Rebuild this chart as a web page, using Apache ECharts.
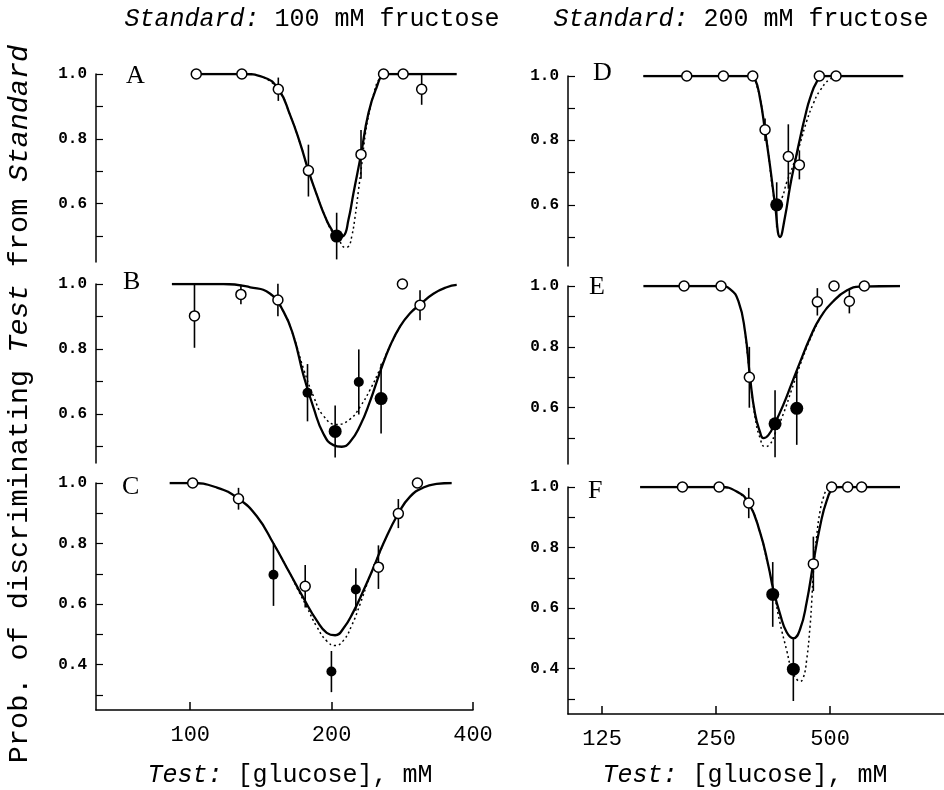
<!DOCTYPE html>
<html>
<head>
<meta charset="utf-8">
<script src="https://cdn.jsdelivr.net/npm/echarts@6/dist/echarts.min.js"></script>
<style>
  html, body { margin: 0; background: #fff; }
  #chart { width: 944px; height: 790px; }
</style>
</head>
<body>
<div id="chart"></div>
<script>
// x values are glucose concentrations (mM), y values are probabilities
// points: [conc, prob, errorbar half length]

// A: standard 100 mM fructose
var aFit = [[100.8,1.0],[128.8,1.0],[143.2,0.99],[154.1,0.953],[163.2,0.873],[171.4,0.786],[178.5,0.702],[186,0.627],[193.7,0.56],[200.2,0.519],[206.8,0.496],[212,0.50],[217.2,0.55],[222.6,0.632],[231,0.752],[239.6,0.88],[249.5,0.96],[257.8,0.997],[266.4,1.0],[369.3,1.0]];
var aDot = [[143.2,0.99],[154.1,0.953],[163.2,0.873],[171.4,0.786],[178.5,0.702],[186,0.627],[193.7,0.56],[200.2,0.515],[206.8,0.49],[213.7,0.465],[217.2,0.468],[220.8,0.50],[224.4,0.56],[228.1,0.64],[231.8,0.72],[235.7,0.81],[239.6,0.87],[245.5,0.935],[251.6,0.98],[260,1.0]];
var aOpen = [[103,1.0,0],[128.8,1.0,0],[154,0.953,0.036],[178.5,0.702,0.08],[231,0.752,0.075],[258,1.0,0],[284,1.0,0],[311,0.953,0.048]];
var aFilled = [[205,0.50,0.072]];

// B
var bFit = [[91.4,1.0],[117.7,1.0],[134.2,0.99],[148,0.97],[158,0.915],[165.9,0.84],[174.2,0.72],[183,0.62],[192.1,0.54],[201.8,0.505],[210.2,0.50],[219,0.515],[230,0.565],[241.5,0.64],[253.7,0.73],[266.4,0.81],[279.8,0.87],[293.8,0.91],[308.5,0.937],[329.4,0.97],[351.6,0.99],[369.3,0.997]];
var bDot = [[148,0.97],[158,0.915],[165.9,0.84],[174.2,0.74],[183,0.655],[192.1,0.595],[205.1,0.568],[219,0.585],[230,0.623],[241.5,0.675],[253.7,0.74],[266.4,0.81],[279.8,0.87]];
var bOpen = [[102.1,0.902,0.098],[128.2,0.968,0.03],[153.7,0.951,0.05],[283,1.0,0],[308.5,0.935,0.046]];
var bFilled = [[203.5,0.547,0.08],[254.9,0.648,0.107]];
var bFilledSmall = [[177.7,0.666,0.088],[228.5,0.699,0.10]];

// C
var cFit = [[90.4,1.0],[100,1.0],[114,0.985],[126.7,0.948],[138.6,0.89],[150.4,0.80],[163.2,0.70],[174.2,0.62],[186,0.545],[195.3,0.505],[203.5,0.497],[212,0.52],[222.6,0.575],[233.8,0.645],[245.5,0.72],[257.8,0.80],[277.5,0.90],[293.8,0.955],[313.6,0.985],[334.8,0.997],[360.3,1.0]];
var cDot = [[150.4,0.80],[163.2,0.70],[168.6,0.655],[177.1,0.59],[186,0.525],[195.3,0.478],[203.5,0.463],[212,0.48],[220.8,0.53],[230,0.60],[239.6,0.68],[245.5,0.72],[257.8,0.80]];
var cOpen = [[101.2,1.0,0],[126.7,0.948,0.036],[175.7,0.659,0.07],[251.6,0.722,0.072],[277.4,0.899,0.048],[304.6,1.0,0]];
var cFilledSmall = [[150.4,0.697,0.103],[199.8,0.377,0.068],[225.2,0.648,0.07]];

// D: standard 200 mM fructose
var dFit = [[160.7,1.0],[307.4,1.0],[316.9,0.99],[326.7,0.93],[336.8,0.83],[347.2,0.72],[357.9,0.60],[369,0.50],[380.4,0.564],[392.1,0.657],[404.2,0.734],[416.7,0.807],[429.6,0.874],[442.8,0.931],[461.2,0.982],[480.2,1.0],[780.6,1.0]];
var dDot = [[160.7,1.0],[307.4,1.0],[320.1,0.97],[333.4,0.87],[343.7,0.76],[352.8,0.65],[361.5,0.60],[372.7,0.62],[384.2,0.67],[400.2,0.725],[416.7,0.79],[433.9,0.86],[451.9,0.915],[470.6,0.955],[500,0.99],[531.4,1.0]];
var dOpen = [[209.2,1.0,0],[261.4,1.0,0],[312.5,1.0,0],[336.8,0.833,0.035],[388,0.75,0.10],[415,0.724,0.045],[468.5,1.0,0],[518.6,1.0,0]];
var dFilled = [[361.5,0.60,0.07]];

// E
var eFit = [[160.7,1.0],[256.2,1.0],[272.2,0.99],[286.4,0.95],[298.2,0.85],[307.4,0.70],[316.9,0.58],[326.7,0.52],[333.4,0.50],[343.7,0.51],[357.9,0.55],[376.5,0.61],[396.1,0.68],[416.7,0.75],[442.8,0.83],[470.6,0.895],[510.2,0.95],[553.3,0.985],[600,0.998],[765.3,1.0]];
var eDot = [[298.2,0.85],[307.4,0.70],[316.9,0.57],[326.7,0.50],[336.8,0.472],[347.2,0.48],[357.9,0.515],[376.5,0.58],[396.1,0.66],[416.7,0.74],[442.8,0.825],[470.6,0.895]];
var eOpen = [[205.8,1.0,0],[257.7,1.0,0],[306.1,0.70,0.10],[462.9,0.948,0.045],[512.3,1.0,0],[562.4,0.95,0.04],[616,1.0,0]];
var eFilled = [[357.9,0.547,0.11],[408.4,0.598,0.12]];

// F
var fFit = [[157.5,1.0],[256.2,1.0],[283.5,0.985],[304.9,0.947],[326.7,0.85],[343.7,0.74],[354.3,0.66],[369,0.58],[384.2,0.52],[400.2,0.50],[416.7,0.53],[433.9,0.62],[451.9,0.75],[470.6,0.87],[490.1,0.955],[510.2,0.995],[531.4,1.0],[765.3,1.0]];
var fDot = [[283.5,0.985],[304.9,0.947],[326.7,0.85],[340.2,0.76],[354.3,0.66],[369,0.55],[384.2,0.46],[396.1,0.395],[408.3,0.365],[416.7,0.358],[425.1,0.37],[433.9,0.43],[442.8,0.54],[447.3,0.62],[451.9,0.72],[461.2,0.84],[470.6,0.92],[480.2,0.965],[490.1,0.99],[505,1.0]];
var fOpen = [[203.8,1.0,0],[254.6,1.0,0],[305,0.947,0.05],[451.8,0.746,0.09],[505,1.0,0],[556.8,1.0,0],[606,1.0,0]];
var fFilled = [[352.9,0.645,0.107],[400,0.398,0.105]];

var xTicksLeft = [100, 200, 400];
var xTicksRight = [125, 250, 500];
var yTicks = [0.3, 0.4, 0.5, 0.6, 0.7, 0.8, 0.9, 1.0];
var yLabels = [0.4, 0.6, 0.8, 1.0];
var panelLetters = ['A', 'B', 'C', 'D', 'E', 'F'];

var mono = '"Liberation Mono", "DejaVu Sans Mono", monospace';
var serif = '"Liberation Serif", "DejaVu Serif", serif';

var lg = function (v) { return Math.log2(v); };
var toXY = function (arr) { return arr.map(function (d) { return [lg(d[0]), d[1]]; }); };

var panels = [
  { fit: aFit, dot: aDot, open: aOpen, big: aFilled, small: [] },
  { fit: bFit, dot: bDot, open: bOpen, big: bFilled, small: bFilledSmall },
  { fit: cFit, dot: cDot, open: cOpen, big: [], small: cFilledSmall },
  { fit: dFit, dot: dDot, open: dOpen, big: dFilled, small: [] },
  { fit: eFit, dot: eDot, open: eOpen, big: eFilled, small: [] },
  { fit: fFit, dot: fDot, open: fOpen, big: fFilled, small: [] }
];

var grids = [
  { left: 96, top: 74, width: 377, height: 188 },
  { left: 96, top: 284, width: 377, height: 179 },
  { left: 96, top: 483, width: 377, height: 227 },
  { left: 568, top: 76, width: 376, height: 190 },
  { left: 568, top: 286, width: 376, height: 178 },
  { left: 568, top: 487, width: 376, height: 227 }
];
var yMin = [0.42, 0.45, 0.25, 0.41, 0.415, 0.25];
var letterPos = [[126, 76], [123, 282], [122, 487], [593, 73], [589, 287], [588, 491]];

var chart = echarts.init(document.getElementById('chart'));

var xAxes = grids.map(function (g, i) {
  var left = i < 3;
  var ticks = (left ? xTicksLeft : xTicksRight).map(lg);
  return {
    gridIndex: i,
    type: 'value',
    min: left ? lg(63) : lg(101.6),
    max: left ? lg(400) : lg(1000),
    show: i === 2 || i === 5,
    axisLine: { onZero: false, lineStyle: { color: '#000', width: 1.5 } },
    axisTick: { inside: true, length: 8, customValues: ticks, lineStyle: { color: '#000', width: 1.5 } },
    axisLabel: {
      customValues: ticks,
      formatter: function (v) { return String(Math.round(Math.pow(2, v))); },
      margin: 14, color: '#000', fontFamily: mono, fontSize: 22
    },
    splitLine: { show: false }
  };
});

var yAxes = grids.map(function (g, i) {
  var ticks = yTicks.filter(function (t) { return t >= yMin[i] - 1e-9; });
  var labels = yLabels.filter(function (t) { return t >= yMin[i] - 1e-9; });
  return {
    gridIndex: i,
    type: 'value',
    min: yMin[i],
    max: 1.0,
    axisLine: { show: true, onZero: false, lineStyle: { color: '#000', width: 1.5 } },
    axisTick: { show: true, inside: true, length: 7, customValues: ticks, lineStyle: { color: '#000', width: 1.2 } },
    axisLabel: {
      customValues: labels,
      formatter: function (v) { return v.toFixed(1); },
      margin: 9, color: '#000', fontFamily: mono, fontWeight: 'bold', fontSize: 16
    },
    splitLine: { show: false }
  };
});

function errorBars(data, i) {
  return {
    type: 'custom',
    xAxisIndex: i, yAxisIndex: i,
    z: 3,
    renderItem: function (params, api) {
      var x = api.value(0), y = api.value(1), e = api.value(2);
      var p1 = api.coord([x, y + e]);
      var p2 = api.coord([x, y - e]);
      return {
        type: 'line',
        shape: { x1: p1[0], y1: p1[1], x2: p2[0], y2: p2[1] },
        style: { stroke: '#000', lineWidth: 1.6 }
      };
    },
    encode: { x: 0, y: 1 },
    data: data.filter(function (d) { return d[2] > 0; }).map(function (d) { return [lg(d[0]), d[1], d[2]]; })
  };
}

var series = [];
panels.forEach(function (p, i) {
  series.push({
    type: 'line', xAxisIndex: i, yAxisIndex: i, data: toXY(p.dot),
    smooth: 0.5, showSymbol: false, z: 2,
    lineStyle: { color: '#000', width: 1.5, type: [2, 3] }
  });
  series.push({
    type: 'line', xAxisIndex: i, yAxisIndex: i, data: toXY(p.fit),
    smooth: 0.5, showSymbol: false, z: 2,
    lineStyle: { color: '#000', width: 2.3 }
  });
  series.push(errorBars(p.open.concat(p.big, p.small), i));
  series.push({
    type: 'scatter', xAxisIndex: i, yAxisIndex: i, data: toXY(p.open), z: 5,
    symbol: 'circle', symbolSize: 10,
    itemStyle: { color: '#fff', borderColor: '#000', borderWidth: 1.5, opacity: 1 }
  });
  series.push({
    type: 'scatter', xAxisIndex: i, yAxisIndex: i, data: toXY(p.big), z: 5,
    symbol: 'circle', symbolSize: 13,
    itemStyle: { color: '#000', opacity: 1 }
  });
  series.push({
    type: 'scatter', xAxisIndex: i, yAxisIndex: i, data: toXY(p.small), z: 5,
    symbol: 'circle', symbolSize: 10,
    itemStyle: { color: '#000', opacity: 1 }
  });
});

function monoText(x, y, text, size, rotation) {
  return {
    type: 'text', x: x, y: y, rotation: rotation || 0,
    style: {
      text: text,
      textAlign: 'center', textVerticalAlign: 'middle',
      align: 'center', verticalAlign: 'middle',
      fill: '#000',
      rich: {
        n: { fontFamily: mono, fontSize: size, fill: '#000' },
        i: { fontFamily: mono, fontSize: size, fontStyle: 'italic', fill: '#000' }
      }
    }
  };
}

var graphics = [
  monoText(312, 19, '{i|Standard:}{n| 100 mM fructose}', 25),
  monoText(741, 19, '{i|Standard:}{n| 200 mM fructose}', 25),
  monoText(290, 775, '{i|Test:}{n| [glucose], mM}', 25),
  monoText(745, 775, '{i|Test:}{n| [glucose], mM}', 25),
  monoText(19, 404, '{n|Prob. of discriminating }{i|Test}{n| from }{i|Standard}', 28.5, Math.PI / 2)
];
panelLetters.forEach(function (l, i) {
  graphics.push({
    type: 'text', x: letterPos[i][0], y: letterPos[i][1],
    style: {
      text: l, fill: '#000',
      font: '26px ' + serif,
      textAlign: 'left', textVerticalAlign: 'middle',
      align: 'left', verticalAlign: 'middle'
    }
  });
});

chart.setOption({
  animation: false,
  backgroundColor: '#fff',
  grid: grids,
  xAxis: xAxes,
  yAxis: yAxes,
  series: series,
  graphic: graphics
});
</script>
</body>
</html>
